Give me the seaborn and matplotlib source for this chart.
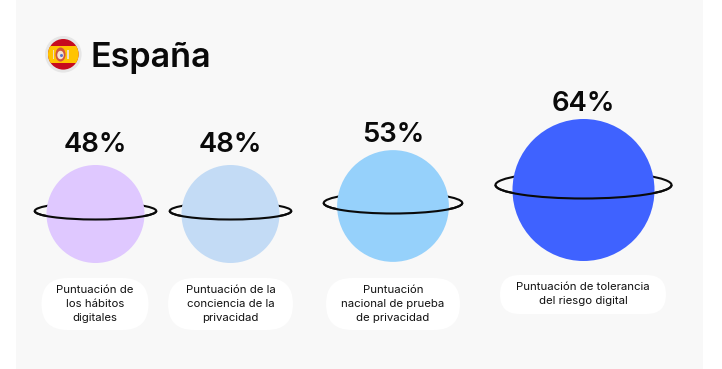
import pandas as pd
import seaborn as sns
import matplotlib.pyplot as plt
from matplotlib.patches import Arc, Circle, Ellipse, FancyBboxPatch, Rectangle

sns.set_theme(style="white")
plt.rcParams["font.family"] = ["Inter", "DejaVu Sans"]

# -----------------------------
title = "España"
labels = [
    "Puntuación de\nlos hábitos\ndigitales",
    "Puntuación de la\nconciencia de la\nprivacidad",
    "Puntuación\nnacional de prueba\nde privacidad",
    "Puntuación de tolerancia\ndel riesgo digital",
]
values = [48, 48, 53, 64]
value_labels = ["48%", "48%", "53%", "64%"]
colors = ["#dfc8ff", "#c3dbf5", "#96d1fb", "#3f62ff"]

# layout, all in pixels of the 722x369 picture
DPI = 100
center_x = [95.5, 230.5, 393, 583.5]
center_y = [214, 214, 206, 190]
ring_y = [211, 211, 203, 185]
ring_h = [17, 17, 21, 27]
text_y = [152, 152, 142.5, 111]
pills = [(41.5, 278, 107, 52), (168, 278, 125, 52), (326, 278, 134, 52), (500, 275, 166, 39)]


def diameter(v):
    # circles grow linearly with the score
    return 2.75 * v - 34


df = pd.DataFrame({"x": center_x, "y": center_y, "label": labels, "value": values})
df["size"] = [(diameter(v) * 72 / DPI) ** 2 for v in values]

fig = plt.figure(figsize=(7.22, 3.69), dpi=DPI)
ax = fig.add_axes([0, 0, 1, 1])
ax.set_xlim(0, 722)
ax.set_ylim(369, 0)
ax.axis("off")

ax.add_patch(Rectangle((16, 0), 687, 369, color="#f8f8f8", lw=0, zorder=0))

# back of the rings goes behind the planets
for x, y, h, v in zip(center_x, ring_y, ring_h, values):
    ax.add_patch(Ellipse((x, y), diameter(v) * 1.24, h, fill=False, ec="#0a0a0a", lw=1.5, zorder=1))

sns.scatterplot(data=df, x="x", y="y", hue="label", palette=colors, size="size",
                sizes=(df["size"].min(), df["size"].max()), linewidth=0,
                legend=False, ax=ax, zorder=2)
ax.set_xlim(0, 722)
ax.set_ylim(369, 0)
ax.axis("off")

# front of the rings
for x, y, h, v in zip(center_x, ring_y, ring_h, values):
    ax.add_patch(Arc((x, y), diameter(v) * 1.24, h, theta1=0, theta2=180,
                     ec="#0a0a0a", lw=1.5, zorder=3))

for x, y, s in zip(center_x, text_y, value_labels):
    ax.text(x, y, s, ha="center", va="baseline", fontsize=19.8, fontweight="semibold", color="#0a0a0a")

for (px, py, pw, ph), s in zip(pills, labels):
    r = ph / 2
    ax.add_patch(FancyBboxPatch((px + r, py + r), pw - 2 * r, 0,
                                boxstyle=f"round,pad={r},rounding_size={r}",
                                fc="white", ec="none", zorder=2))
    ax.text(px + pw / 2, py + ph / 2, s, ha="center", va="center", fontsize=8.2,
            color="#111111", linespacing=1.5, zorder=3)

# title and flag
ax.text(90.5, 67, title, ha="left", va="baseline", fontsize=24.6, fontweight="semibold", color="#0a0a0a")

ax.add_patch(Circle((63.3, 54.3), 18.3, fc="#e6e6e6", ec="none", zorder=2))
flag = Circle((63.3, 54.3), 15.3, fc="#c60b1e", ec="none", zorder=3)
ax.add_patch(flag)
band = Rectangle((45, 46), 37, 16.7, fc="#ffc400", ec="none", zorder=4)
ax.add_patch(band)
band.set_clip_path(flag)
ax.add_patch(Ellipse((60.5, 54.5), 10, 14, fc="#d2553f", ec="none", zorder=5))
ax.add_patch(Ellipse((60.5, 55), 6.5, 8.5, fc="#f4e3d0", ec="none", zorder=6))
ax.add_patch(Ellipse((61.5, 55.5), 3, 3, fc="#5b74c9", ec="none", zorder=7))
ax.add_patch(Rectangle((52.5, 50), 1.6, 9, fc="#f0dcc8", ec="none", zorder=5))
ax.add_patch(Rectangle((67, 50), 1.6, 9, fc="#f0dcc8", ec="none", zorder=5))

fig.savefig("out.png", dpi=DPI)
